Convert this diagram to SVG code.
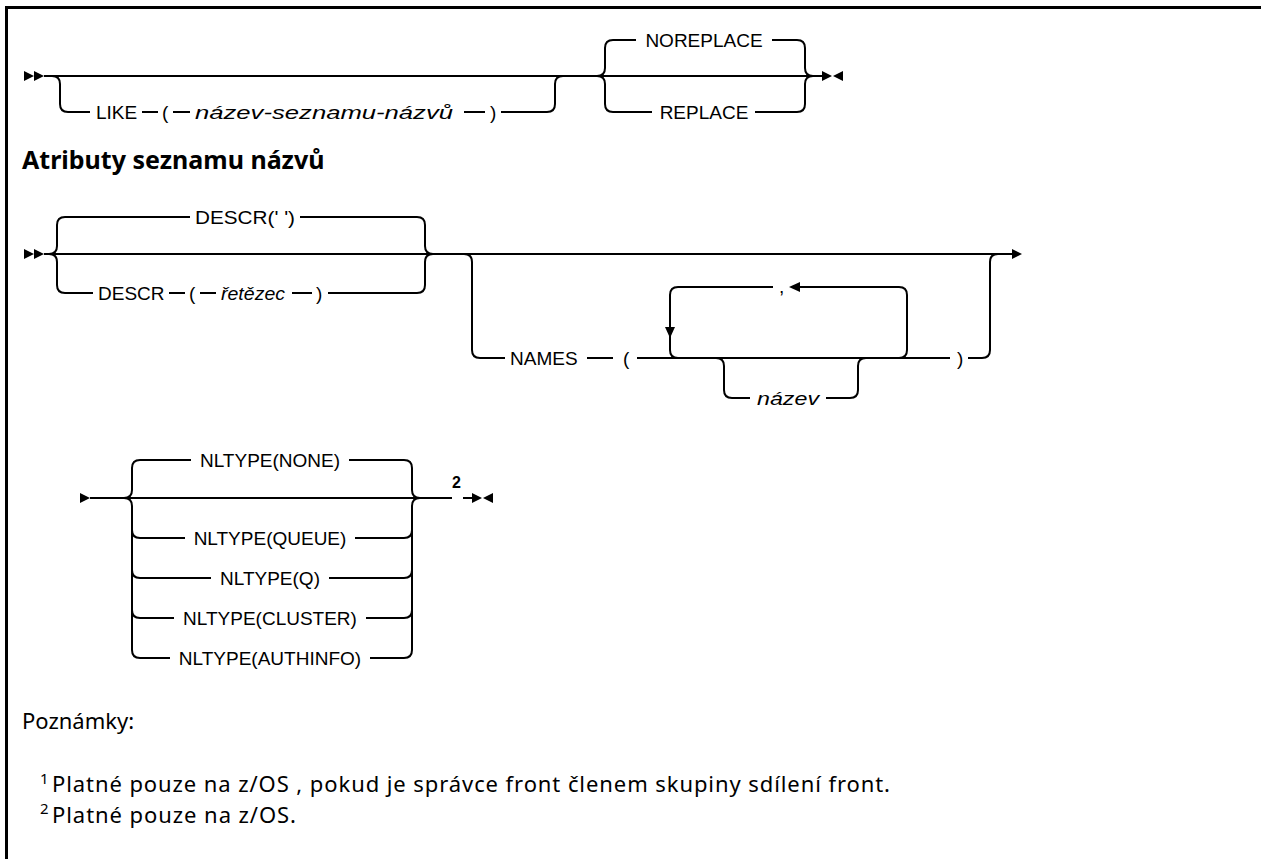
<svg xmlns="http://www.w3.org/2000/svg" width="1261" height="859" viewBox="0 0 1261 859">
<style>
.ln{fill:none;stroke:#000;stroke-width:2}
.fr{fill:none;stroke:#000;stroke-width:3}
.t{font-family:"Liberation Sans",Arial,sans-serif;font-size:19px;fill:#000}
.i{font-style:italic}
.h{font-family:"Noto Sans","Open Sans",sans-serif;font-weight:bold;font-size:25px;fill:#000}
.n{font-family:"Noto Sans","Open Sans",sans-serif;font-size:22px;fill:#000}
.p{font-family:"Noto Sans","Open Sans",sans-serif;font-size:22px;fill:#000}
.s{font-family:"Noto Sans","Open Sans",sans-serif;font-size:15px;fill:#000}
.sb{font-family:"Liberation Sans",Arial,sans-serif;font-size:16px;font-weight:bold;fill:#000}
</style>
<defs>
<g id="dbl"><polygon points="0,-5 10,0 0,5"/><polygon points="10,-5 20,0 10,5"/></g>
<g id="end"><polygon points="0,-5 10,0 0,5"/><polygon points="21,-5 11,0 21,5"/></g>
<polygon id="one" points="0,-5 10,0 0,5"/>
</defs>
<rect width="1261" height="859" fill="#fff"/>
<g id="frame">
<path class="fr" d="M5,7.5 H1261"/>
<path class="fr" d="M6.5,6 V859"/>
</g>

<g id="connectors">
<!-- row 1 -->
<use href="#dbl" x="24" y="76"/>
<path class="ln" d="M44,76 H822"/>
<path class="ln" d="M52,76 Q60,76 60,84 V104 Q60,112 68,112 H90"/>
<path class="ln" d="M142,112 H158 M173,112 H190 M464,112 H485 M501,112 H547 Q555,112 555,104 V84 Q555,76 563,76"/>
<path class="ln" d="M597,76 Q605,76 605,68 V48 Q605,40 613,40 H636 M772,40 H797 Q805,40 805,48 V68 Q805,76 813,76"/>
<path class="ln" d="M597,76 Q605,76 605,84 V104 Q605,112 613,112 H652 M755,112 H797 Q805,112 805,104 V84 Q805,76 813,76"/>
<use href="#end" x="822" y="76"/>
<!-- row 2 -->
<use href="#dbl" x="24" y="254"/>
<path class="ln" d="M44,254 H1012"/>
<use href="#one" x="1012" y="254"/>
<path class="ln" d="M49,254 Q57,254 57,246 V225 Q57,217 65,217 H190 M300,217 H417 Q425,217 425,225 V246 Q425,254 433,254"/>
<path class="ln" d="M49,254 Q57,254 57,262 V285 Q57,293 65,293 H93 M169,293 H185 M200,293 H216 M292,293 H312 M328,293 H417 Q425,293 425,285 V262 Q425,254 433,254"/>
<path class="ln" d="M464,254 Q472,254 472,262 V350 Q472,358 480,358 H505 M587,358 H613 M637,358 H950 M968,358 H982 Q990,358 990,350 V262 Q990,254 998,254"/>
<path class="ln" d="M899,358 Q907,358 907,350 V295 Q907,287 899,287 H799 M773,287 H678 Q670,287 670,295 V350 Q670,358 678,358"/>
<polygon points="789,287 800,282 800,292"/>
<polygon points="665,327 675,327 670,338"/>
<path class="ln" d="M716,358 Q724,358 724,366 V390 Q724,398 732,398 H750 M826,398 H850 Q858,398 858,390 V366 Q858,358 866,358"/>
<!-- row 3 -->
<use href="#one" x="80" y="498"/>
<path class="ln" d="M90,498 H452 M463,498 H472"/>
<use href="#end" x="472" y="498"/>
<path class="ln" d="M124,498 Q132,498 132,490 V468 Q132,460 140,460 H191 M349,460 H404 Q412,460 412,468 V490 Q412,498 420,498"/>
<path class="ln" d="M124,498 Q132,498 132,506 V650 Q132,658 140,658 H170 M370,658 H404 Q412,658 412,650 V506 Q412,498 420,498"/>
<path class="ln" d="M132,530 Q132,538 140,538 H185 M355,538 H404 Q412,538 412,530"/>
<path class="ln" d="M132,570 Q132,578 140,578 H211 M329,578 H404 Q412,578 412,570"/>
<path class="ln" d="M132,610 Q132,618 140,618 H174 M366,618 H404 Q412,618 412,610"/>
</g>

<g id="n-like">
<text class="t" x="96" y="119">LIKE</text>
<text class="t" x="162" y="119">(</text>
<text class="t i" x="195" y="119" textLength="258" lengthAdjust="spacingAndGlyphs">název-seznamu-názvů</text>
<text class="t" x="490" y="119">)</text>
</g>
<g id="n-noreplace"><text class="t" x="704" y="47" text-anchor="middle">NOREPLACE</text></g>
<g id="n-replace"><text class="t" x="704" y="119" text-anchor="middle">REPLACE</text></g>

<g id="heading"><text class="h" x="22" y="169">Atributy seznamu názvů</text></g>

<g id="n-descr-def"><text class="t" x="245" y="224" text-anchor="middle" textLength="100" lengthAdjust="spacingAndGlyphs">DESCR(' ')</text></g>
<g id="n-descr">
<text class="t" x="98" y="300">DESCR</text>
<text class="t" x="189" y="300">(</text>
<text class="t i" x="221" y="300" textLength="64" lengthAdjust="spacingAndGlyphs">řetězec</text>
<text class="t" x="316" y="300">)</text>
</g>
<g id="n-names">
<text class="t" x="510" y="365">NAMES</text>
<text class="t" x="623" y="365">(</text>
<text class="t" x="779" y="293">,</text>
<text class="t i" x="757" y="405" textLength="62" lengthAdjust="spacingAndGlyphs">název</text>
<text class="t" x="957" y="365">)</text>
</g>

<g id="n-nltype">
<text class="t" x="270" y="467" text-anchor="middle">NLTYPE(NONE)</text>
<text class="t" x="270" y="545" text-anchor="middle">NLTYPE(QUEUE)</text>
<text class="t" x="270" y="585" text-anchor="middle">NLTYPE(Q)</text>
<text class="t" x="270" y="625" text-anchor="middle">NLTYPE(CLUSTER)</text>
<text class="t" x="270" y="665" text-anchor="middle">NLTYPE(AUTHINFO)</text>
<text class="sb" x="452" y="488">2</text>
</g>

<g id="notes">
<text class="p" x="22" y="729">Poznámky:</text>
<text class="s" x="40" y="784">1</text>
<text class="n" x="52" y="792" textLength="838" lengthAdjust="spacing">Platné pouze na z/OS , pokud je správce front členem skupiny sdílení front.</text>
<text class="s" x="40" y="814">2</text>
<text class="n" x="52" y="823" textLength="244" lengthAdjust="spacing">Platné pouze na z/OS.</text>
</g>
</svg>
